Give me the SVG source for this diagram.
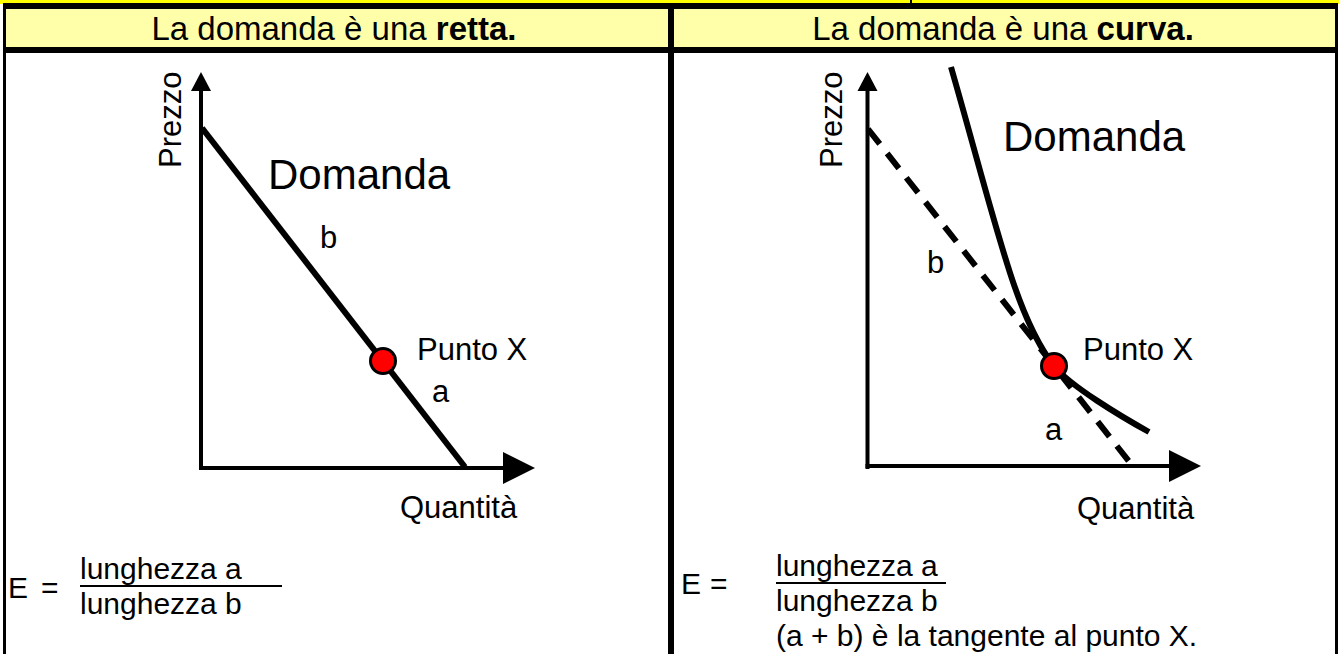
<svg xmlns="http://www.w3.org/2000/svg" width="1339" height="654" viewBox="0 0 1339 654">
<style>
.t{font-family:"Liberation Sans",Arial,sans-serif;fill:#000}
.hd{font-size:33px}
.lbl{font-size:31px}
.big{font-size:42px}
.fm{font-size:30px}
.ax{stroke:#000;stroke-width:4;fill:none}
.dm{stroke:#000;stroke-width:6;fill:none}
.dot{fill:#ff0000;stroke:#000;stroke-width:3}
.bar{stroke:#000;stroke-width:2}
</style>
<rect x="0" y="0" width="1339" height="654" fill="#fff"/>
<g id="frame">
<rect x="0" y="0" width="1339" height="4" fill="#ffff00"/>
<rect x="910" y="0" width="2" height="4" fill="#000"/>
<rect x="5" y="9" width="1330" height="38" fill="#ffffaa"/>
<rect x="3" y="3" width="1335" height="6" fill="#000"/>
<rect x="3" y="47" width="1335" height="6" fill="#000"/>
<rect x="3" y="3" width="3" height="651" fill="#000"/>
<rect x="1335" y="3" width="3" height="651" fill="#000"/>
<rect x="668" y="3" width="6" height="651" fill="#000"/>
</g>
<g id="header-left"><text class="t hd" x="334" y="40" text-anchor="middle">La domanda è una <tspan font-weight="bold">retta.</tspan></text></g>
<g id="header-right"><text class="t hd" x="1003" y="40" text-anchor="middle">La domanda è una <tspan font-weight="bold">curva.</tspan></text></g>
<g id="chart-left">
<line class="ax" x1="201" y1="470" x2="201" y2="88"/>
<polygon points="201,72 191,91 211,91"/>
<line class="ax" x1="199" y1="468" x2="505" y2="468"/>
<polygon points="535,468 503,452 503,484"/>
<line class="dm" x1="202" y1="128" x2="465" y2="467"/>
<circle class="dot" cx="383" cy="361" r="12.5"/>
<text class="t lbl" transform="translate(181,168) rotate(-90)">Prezzo</text>
<text class="t big" x="268" y="189">Domanda</text>
<text class="t lbl" x="320" y="248">b</text>
<text class="t lbl" x="417" y="360">Punto X</text>
<text class="t lbl" x="432" y="402">a</text>
<text class="t lbl" x="400" y="518">Quantità</text>
</g>
<g id="chart-right">
<line class="ax" x1="867.5" y1="469" x2="867.5" y2="88"/>
<polygon points="867.5,72 857.5,91 877.5,91"/>
<line class="ax" x1="865.5" y1="466" x2="1172" y2="466"/>
<polygon points="1201,466 1169,450 1169,482"/>
<line x1="868" y1="129" x2="1131" y2="464" stroke="#000" stroke-width="6" stroke-dasharray="19 12"/>
<path class="dm" d="M951,67 C997,227 1015,316 1054,366 C1070,386 1122,417 1149,432" stroke-width="5.5"/>
<circle class="dot" cx="1054" cy="366" r="12.5"/>
<text class="t lbl" transform="translate(842,168) rotate(-90)">Prezzo</text>
<text class="t big" x="1003" y="151">Domanda</text>
<text class="t lbl" x="927" y="273">b</text>
<text class="t lbl" x="1083" y="360">Punto X</text>
<text class="t lbl" x="1045" y="440">a</text>
<text class="t lbl" x="1077" y="519">Quantità</text>
</g>
<g id="formula-left">
<text class="t fm" x="8" y="598">E<tspan x="41">=</tspan></text>
<text class="t fm" x="80" y="579">lunghezza a</text>
<line class="bar" x1="80" y1="586" x2="282" y2="586"/>
<text class="t fm" x="80" y="614">lunghezza b</text>
</g>
<g id="formula-right">
<text class="t fm" x="681" y="594">E<tspan x="710">=</tspan></text>
<text class="t fm" x="776" y="576">lunghezza a</text>
<line class="bar" x1="776" y1="583" x2="946" y2="583"/>
<text class="t fm" x="776" y="611">lunghezza b</text>
<text class="t fm" x="776" y="646">(a + b) è la tangente al punto X.</text>
</g>
</svg>
